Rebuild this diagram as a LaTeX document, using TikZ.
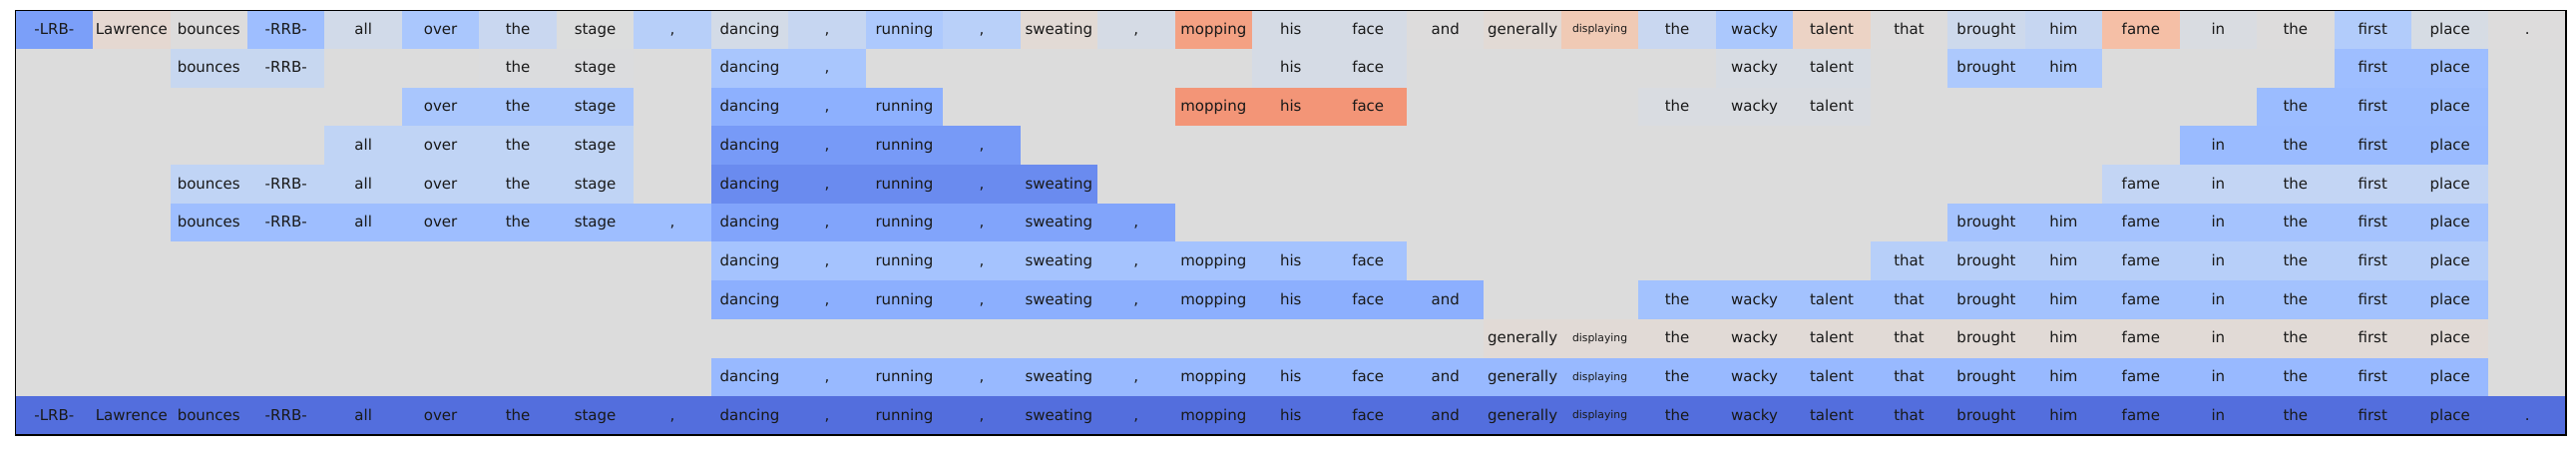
\documentclass[tikz,border=0pt]{standalone}
\usepackage{fontspec}
\setmainfont{DejaVu Sans}
\newcommand\tokspan[4]{% row, first column, last column, colour
  \definecolor{spancol}{HTML}{#4}%
  \fill[spancol] (#2,#1) rectangle (#3+1,#1+1);
  \foreach \c in {#2,...,#3}
    \node[tok,tok\c/.try] (r#1c\c) at (\c+0.5,#1+0.5) {\csname tok\c\endcsname};
}
\tikzset{
  tok/.style={inner sep=0pt,text=black!90,font=\fontsize{7.5}{9}\selectfont,
    text height=5.5pt,text depth=0.9pt},
  tok20/.style={font=\fontsize{5.4}{6}\selectfont,text height=4pt,text depth=0.7pt}
}
\begin{document}
\begin{tikzpicture}[x=38.735pt,y=-19.35pt]
	\useasboundingbox (-7.8pt,5.15pt) rectangle (1283.3pt,-220.35pt);
	\fill[fill={rgb,255:red,220;green,220;blue,220}] (0,0) rectangle (33,11);
	% first row: every token with its own colour
	\foreach \w/\h [count=\i from 0] in {-LRB-/7B9FF9,Lawrence/E5D8D1,bounces/DDDCDC,-RRB-/9EBEFF,
		all/D1DAE9,over/AAC7FD,the/C9D7F0,stage/DCDDDD,{,}/B7CFF9,dancing/D3DBE7,{,}/C6D6F1,
		running/ADC9FD,{,}/B9D0F9,sweating/E2DAD5,{,}/D5DBE5,mopping/F4A183,his/D5DBE5,
		face/D5DBE5,and/DDDCDC,generally/E2DAD5,displaying/F0CAB5,the/C9D7F0,wacky/ABC8FD,
		talent/ECD3C5,that/DDDCDC,brought/CDD9EC,him/C6D6F1,fame/F5BFA6,in/D9DCE1,the/DDDCDC,
		first/B2CCFB,place/D6DCE4,./DDDCDC}{
		\global\expandafter\let\csname tok\i\endcsname\w
		\tokspan{0}{\i}{\i}{\h}
	}
	\tokspan{1}{2}{3}{C7D7F0}
	\tokspan{1}{6}{7}{DBDCDE}
	\tokspan{1}{9}{10}{A9C6FD}
	\tokspan{1}{16}{17}{D5DBE5}
	\tokspan{1}{22}{23}{D7DCE3}
	\tokspan{1}{25}{26}{ADC9FD}
	\tokspan{1}{30}{31}{9EBEFF}
	\tokspan{2}{5}{7}{A9C6FD}
	\tokspan{2}{9}{11}{8DB0FE}
	\tokspan{2}{15}{17}{F39577}
	\tokspan{2}{21}{23}{D9DCE1}
	\tokspan{2}{29}{31}{9BBCFF}
	\tokspan{3}{4}{7}{C0D4F5}
	\tokspan{3}{9}{12}{779AF7}
	\tokspan{3}{28}{31}{9ABBFF}
	\tokspan{4}{2}{7}{C0D4F5}
	\tokspan{4}{9}{13}{6A8BEF}
	\tokspan{4}{27}{31}{C3D5F4}
	\tokspan{5}{2}{8}{9EBEFF}
	\tokspan{5}{9}{14}{81A4FB}
	\tokspan{5}{25}{31}{A5C3FE}
	\tokspan{6}{9}{17}{A5C3FE}
	\tokspan{6}{24}{31}{B7CFF9}
	\tokspan{7}{9}{18}{8CAFFE}
	\tokspan{7}{21}{31}{A3C2FE}
	\tokspan{8}{19}{31}{E1DAD6}
	\tokspan{9}{9}{31}{98B9FF}
	\tokspan{10}{0}{32}{536EDD}
	\draw[line width=0.6pt] (0,0) rectangle (33,11);
\end{tikzpicture}
\end{document}
